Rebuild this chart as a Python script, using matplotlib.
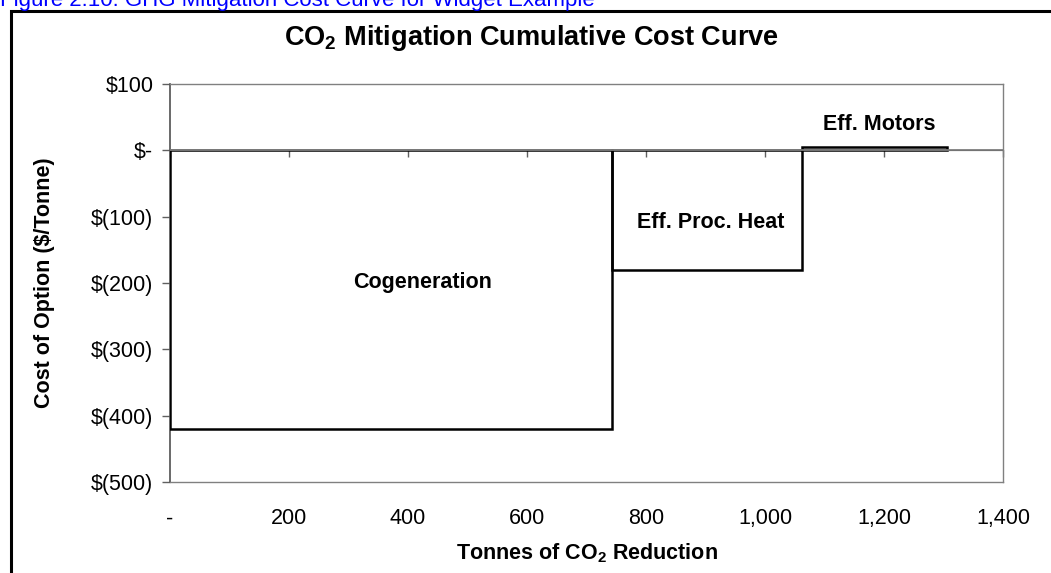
import numpy as np
import matplotlib.pyplot as plt
from matplotlib.patches import Rectangle
from matplotlib.ticker import FuncFormatter, MultipleLocator

plt.rcParams['font.family'] = ['Liberation Sans', 'DejaVu Sans']
plt.rcParams['mathtext.fontset'] = 'custom'
plt.rcParams['mathtext.rm'] = 'Liberation Sans'
plt.rcParams['mathtext.bf'] = 'Liberation Sans:bold'

# mitigation options, tonnes reduced and cost per tonne
options = ['Cogeneration', 'Eff. Proc. Heat', 'Eff. Motors']
tonnes = [743, 319, 244]
cost = [-420, -180, 5]

# where each option's name sits (tonnes, $/tonne)
label_x = [425, 908, 1192]
label_y = [-199, -109, 39]

caption = 'Figure 2.10: GHG Mitigation Cost Curve for Widget Example'

starts = np.concatenate([[0], np.cumsum(tonnes)[:-1]])

fig = plt.figure(figsize=(10.51, 5.73), dpi=100)
ax = fig.add_axes([0.1618, 0.1588, 0.7925, 0.6946])

ax.bar(starts, cost, width=tonnes, align='edge', fill=False,
       edgecolor='black', linewidth=1.8, zorder=3)
ax.axhline(0, color='#808080', linewidth=1.3, zorder=4)

ax.set_xlim(0, 1400)
ax.set_ylim(-500, 100)

def dollars(v, pos):
    if v == 0:
        return '$-'
    if v < 0:
        return '$(%d)' % abs(v)
    return '$%d' % v

def tonnes_fmt(v, pos):
    if v == 0:
        return '-'
    return '{:,.0f}'.format(v)

ax.yaxis.set_major_locator(MultipleLocator(100))
ax.yaxis.set_major_formatter(FuncFormatter(dollars))
ax.xaxis.set_major_locator(MultipleLocator(200))
ax.xaxis.set_major_formatter(FuncFormatter(tonnes_fmt))
ax.tick_params(axis='y', direction='out', length=6, width=1, color='#606060',
               labelsize=15.5, pad=6)
ax.tick_params(axis='x', length=0, labelsize=15.5, pad=19)

for side in ['top', 'right', 'bottom']:
    ax.spines[side].set_color('#808080')
    ax.spines[side].set_linewidth(1)
ax.spines['left'].set_color('#505050')
ax.spines['left'].set_linewidth(1.2)

# zero line carrying the category ticks
zero = ax.secondary_xaxis(500 / 600)
zero.xaxis.set_major_locator(MultipleLocator(200))
zero.tick_params(direction='out', length=5, width=1, color='#606060',
                 labelbottom=False, labeltop=False, top=False, bottom=True)
zero.spines['bottom'].set_visible(False)
zero.xaxis.set_ticks_position('bottom')
zero.set_xticklabels([])

for name, x, y in zip(options, label_x, label_y):
    ax.text(x, y, name, ha='center', va='center', fontsize=15.5,
            fontweight='bold', zorder=5)

# title is centred on the whole chart frame, not the plot area
fig.text(531 / 1051, 1 - 38 / 573,
         r'CO$_\mathbf{2}$ Mitigation Cumulative Cost Curve',
         fontsize=19.5, fontweight='bold', ha='center', va='center')
ax.set_xlabel(r'Tonnes of CO$_\mathbf{2}$ Reduction', fontsize=15.5,
              fontweight='bold', labelpad=9)
ax.set_ylabel('Cost of Option ($/Tonne)', fontsize=15.5, fontweight='bold',
              labelpad=26)

# chart frame and caption running off the page edge
fig.patches.append(Rectangle((11 / 1051, -0.05), 1.2, 1 - 11 / 573 + 0.05,
                             transform=fig.transFigure, fill=False,
                             edgecolor='black', linewidth=2.2, clip_on=False))
fig.text(0.0, 1 - 6 / 573, caption, color='#0000ff', fontsize=16,
         ha='left', va='baseline')

fig.savefig('out.png', dpi=100)
